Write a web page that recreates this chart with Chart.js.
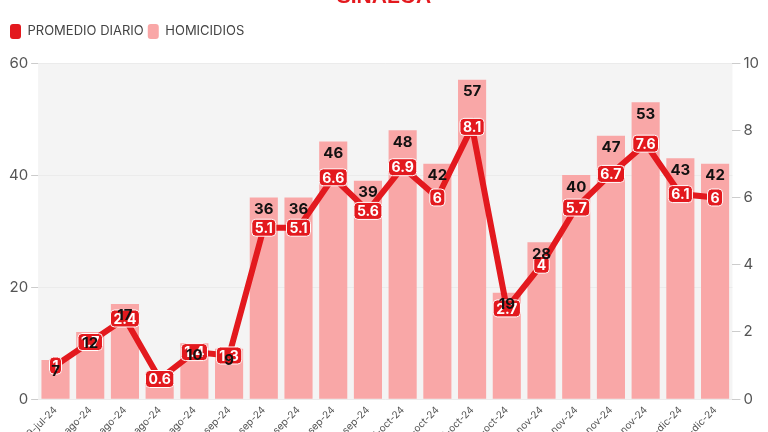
<!DOCTYPE html>
<html>
<head>
<meta charset="utf-8">
<script src="https://cdn.jsdelivr.net/npm/chart.js@4.4.1/dist/chart.umd.min.js"></script>
<style>
  html, body { margin: 0; padding: 0; background: #fff; overflow: hidden; }
  #wrap { width: 768px; height: 432px; overflow: hidden; position: relative; }
  #homChart { position: absolute; left: 0; top: -18px; }
</style>
</head>
<body>
<div id="wrap"><canvas id="homChart" width="768" height="480"></canvas></div>
<script>
const semanas = ['29-jul-24', '05-ago-24', '12-ago-24', '19-ago-24', '26-ago-24',
  '02-sep-24', '09-sep-24', '16-sep-24', '23-sep-24', '30-sep-24',
  '07-oct-24', '14-oct-24', '21-oct-24', '28-oct-24',
  '04-nov-24', '11-nov-24', '18-nov-24', '25-nov-24',
  '02-dic-24', '09-dic-24'];
const homicidios = [7, 12, 17, 4, 10, 9, 36, 36, 46, 39, 48, 42, 57, 19, 28, 40, 47, 53, 43, 42];
const promedio = [1, 1.7, 2.4, 0.6, 1.4, 1.3, 5.1, 5.1, 6.6, 5.6, 6.9, 6, 8.1, 2.7, 4, 5.7, 6.7, 7.6, 6.1, 6];
const ticksIzq = [0, 20, 40, 60];
const ticksDer = [0, 2, 4, 6, 8, 10];

const ROJO = '#e3191e';
const ROSA = '#f9a7a7';
const OFFSET = 18; // el lienzo se corre hacia arriba, el titulo queda cortado

function roundRect(c, x, y, w, h, r) {
  c.beginPath();
  c.moveTo(x + r, y);
  c.lineTo(x + w - r, y);
  c.quadraticCurveTo(x + w, y, x + w, y + r);
  c.lineTo(x + w, y + h - r);
  c.quadraticCurveTo(x + w, y + h, x + w - r, y + h);
  c.lineTo(x + r, y + h);
  c.quadraticCurveTo(x, y + h, x, y + h - r);
  c.lineTo(x, y + r);
  c.quadraticCurveTo(x, y, x + r, y);
  c.closePath();
}

// espacio extra debajo de la leyenda
const espacioLeyenda = {
  id: 'espacioLeyenda',
  beforeInit(chart) {
    const fitOrig = chart.legend.fit;
    chart.legend.fit = function () {
      fitOrig.bind(chart.legend)();
      this.height += 14;
    };
  }
};

// fondo gris del area de grafica
const fondo = {
  id: 'fondo',
  beforeDraw(chart) {
    const a = chart.chartArea, c = chart.ctx;
    c.save();
    c.fillStyle = '#f4f4f4';
    c.fillRect(a.left, a.top, a.right - a.left, a.bottom - a.top);
    c.restore();
  }
};

// titulo y etiquetas de datos
const etiquetas = {
  id: 'etiquetas',
  afterDatasetsDraw(chart) {
    const c = chart.ctx;
    c.save();
    c.textAlign = 'center';
    c.textBaseline = 'middle';

    // etiquetas de la linea
    c.font = 'bold 14px Inter';
    chart.getDatasetMeta(0).data.forEach((pt, i) => {
      const txt = String(promedio[i]);
      const w = c.measureText(txt).width + 6;
      const h = 17;
      roundRect(c, pt.x - w / 2, pt.y - h / 2, w, h, 4);
      c.fillStyle = ROJO;
      c.fill();
      c.strokeStyle = '#ffffff';
      c.lineWidth = 1;
      c.stroke();
      c.fillStyle = '#ffffff';
      c.fillText(txt, pt.x, pt.y + 1);
    });

    // etiquetas de las barras (se ocultan si la barra es muy baja)
    c.font = 'bold 15px Inter';
    c.fillStyle = '#111111';
    chart.getDatasetMeta(1).data.forEach((bar, i) => {
      if (bar.base - bar.y < 26) return;
      c.fillText(String(homicidios[i]), bar.x, bar.y + 12);
    });

    c.font = 'bold 21px "Liberation Sans"';
    c.fillStyle = ROJO;
    c.textBaseline = 'alphabetic';
    c.fillText('SINALOA', chart.width / 2, 3 + OFFSET);
    c.restore();
  }
};

new Chart(document.getElementById('homChart'), {
  data: {
    labels: semanas,
    datasets: [{
      type: 'line',
      label: 'PROMEDIO DIARIO',
      data: promedio,
      yAxisID: 'y1',
      borderColor: ROJO,
      backgroundColor: ROJO,
      borderWidth: 6,
      pointRadius: 0,
      tension: 0,
      order: 0
    }, {
      type: 'bar',
      label: 'HOMICIDIOS',
      data: homicidios,
      yAxisID: 'y',
      backgroundColor: ROSA,
      borderWidth: 0,
      categoryPercentage: 0.9,
      barPercentage: 0.9,
      order: 1
    }]
  },
  options: {
    responsive: false,
    animation: false,
    layout: { padding: { top: 38, left: 6, right: 6, bottom: 13 } },
    plugins: {
      legend: {
        position: 'top',
        align: 'start',
        labels: {
          font: { family: 'Inter', size: 13 },
          color: '#444',
          boxWidth: 11,
          boxHeight: 15,
          padding: 4,
          generateLabels(chart) {
            return chart.data.datasets.map((ds, i) => ({
              text: ds.label,
              fillStyle: ds.type === 'line' ? ROJO : ROSA,
              strokeStyle: 'rgba(0,0,0,0)',
              lineWidth: 0,
              borderRadius: 3,
              fontColor: '#444',
              hidden: false,
              datasetIndex: i
            }));
          },
          useBorderRadius: true,
          borderRadius: 3
        }
      },
      tooltip: { enabled: false }
    },
    scales: {
      x: {
        grid: { display: false, drawTicks: true, tickLength: 5 },
        border: { display: false },
        ticks: {
          minRotation: 45,
          maxRotation: 45,
          padding: 0,
          color: '#555',
          font: { family: 'Inter', size: 10 }
        }
      },
      y: {
        position: 'left',
        min: 0,
        max: 60,
        afterBuildTicks: axis => { axis.ticks = ticksIzq.map(v => ({ value: v })); },
        grid: { color: '#ebebeb', tickLength: 7, tickColor: '#cccccc' },
        border: { display: false },
        ticks: { color: '#555', font: { family: 'Inter', size: 15 }, padding: 3 }
      },
      y1: {
        position: 'right',
        min: 0,
        max: 10,
        afterBuildTicks: axis => { axis.ticks = ticksDer.map(v => ({ value: v })); },
        grid: { drawOnChartArea: false, tickLength: 8, tickColor: '#cccccc' },
        border: { display: false },
        ticks: { color: '#555', font: { family: 'Inter', size: 15 }, padding: 3 }
      }
    }
  },
  plugins: [espacioLeyenda, fondo, etiquetas]
});
</script>
</body>
</html>
